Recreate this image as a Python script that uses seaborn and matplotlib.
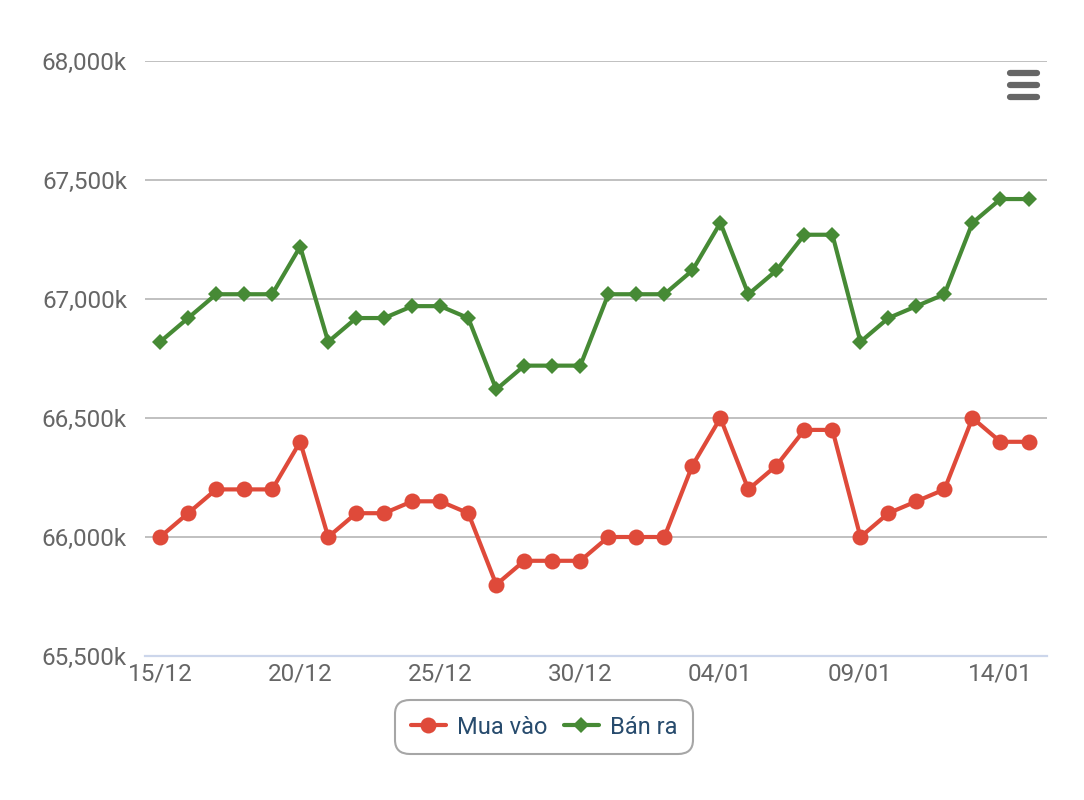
import matplotlib
matplotlib.use("Agg")
import matplotlib.pyplot as plt
import seaborn as sns
import pandas as pd
import numpy as np
from matplotlib.lines import Line2D

dates = ["15/12", "16/12", "17/12", "18/12", "19/12", "20/12", "21/12", "22/12",
         "23/12", "24/12", "25/12", "26/12", "27/12", "28/12", "29/12", "30/12",
         "31/12", "01/01", "02/01", "03/01", "04/01", "05/01", "06/01", "07/01",
         "08/01", "09/01", "10/01", "11/01", "12/01", "13/01", "14/01", "15/01"]

mua_vao = [66000, 66100, 66200, 66200, 66200, 66400, 66000, 66100,
           66100, 66150, 66150, 66100, 65800, 65900, 65900, 65900,
           66000, 66000, 66000, 66300, 66500, 66200, 66300, 66450,
           66450, 66000, 66100, 66150, 66200, 66500, 66400, 66400]

ban_ra = [66820, 66920, 67020, 67020, 67020, 67220, 66820, 66920,
          66920, 66970, 66970, 66920, 66620, 66720, 66720, 66720,
          67020, 67020, 67020, 67120, 67320, 67020, 67120, 67270,
          67270, 66820, 66920, 66970, 67020, 67320, 67420, 67420]

series_names = ["Mua vào", "Bán ra"]
y_ticks = [65500, 66000, 66500, 67000, 67500, 68000]
label_every = 5

red = "#DF4A3A"
green = "#468A35"

sns.set_style("white")
plt.rcParams["font.family"] = ["Roboto", "DejaVu Sans"]

df = pd.DataFrame({"idx": np.arange(len(dates)), "date": dates,
                   series_names[0]: mua_vao, series_names[1]: ban_ra})

fig = plt.figure(figsize=(10.84, 8.0), dpi=100)
ax = fig.add_axes([145 / 1084, 1 - 656 / 800, (1047 - 145) / 1084, (656 - 61) / 800])

sns.lineplot(data=df, x="idx", y=series_names[0], ax=ax, color=red, lw=3.0,
             marker="o", markersize=11.5, markeredgewidth=0, zorder=4)
sns.lineplot(data=df, x="idx", y=series_names[1], ax=ax, color=green, lw=3.0,
             marker="D", markersize=8.5, markeredgewidth=0, zorder=4)

ax.set_ylim(y_ticks[0], y_ticks[-1])
ax.set_xlim(-0.54, len(dates) - 1 + 0.66)
ax.set_yticks(y_ticks)
ax.set_yticklabels([f"{v:,}k" for v in y_ticks])
major = list(range(0, len(dates), label_every))
ax.set_xticks(major)
ax.set_xticklabels([dates[i] for i in major])
ax.set_xticks([i + 0.5 for i in range(-1, len(dates))], minor=True)

ax.grid(axis="y", color="#C0C0C0", lw=1.4, zorder=0)
ax.grid(axis="x", visible=False)
for s in ["top", "right", "left"]:
    ax.spines[s].set_visible(False)
ax.spines["bottom"].set_color("#CCD6EB")
ax.spines["bottom"].set_linewidth(1.6)
ax.spines["bottom"].set_zorder(5)

ax.tick_params(axis="y", length=0, pad=13, labelsize=17.5, labelcolor="#666666")
ax.tick_params(axis="x", which="major", length=0, pad=5, labelsize=17.5, labelcolor="#666666")
ax.tick_params(axis="x", which="minor", length=7, width=1.5, color="#CCD6EB", direction="out")
ax.set_xlabel("")
ax.set_ylabel("")

handles = [
    Line2D([], [], color=red, lw=3.0, marker="o", markersize=11.5, markeredgewidth=0),
    Line2D([], [], color=green, lw=3.0, marker="D", markersize=8.5, markeredgewidth=0),
]
leg = fig.legend(handles, series_names, loc="center", bbox_to_anchor=(544 / 1084, 1 - 727 / 800),
                 ncol=2, frameon=True, fontsize=17, handlelength=1.5, handletextpad=0.45,
                 columnspacing=0.7, borderpad=0.45, fancybox=True)
for t in leg.get_texts():
    t.set_color("#274B6D")
frame = leg.get_frame()
frame.set_edgecolor("#909090")
frame.set_linewidth(1.5)
frame.set_boxstyle("round,pad=0.2,rounding_size=0.6")

# context menu icon
for yy in [73, 85, 97]:
    fig.add_artist(Line2D([1010 / 1084, 1037 / 1084], [1 - yy / 800, 1 - yy / 800],
                          color="#666666", lw=4.5, solid_capstyle="round"))

fig.savefig("out.png", dpi=100, facecolor="white")
